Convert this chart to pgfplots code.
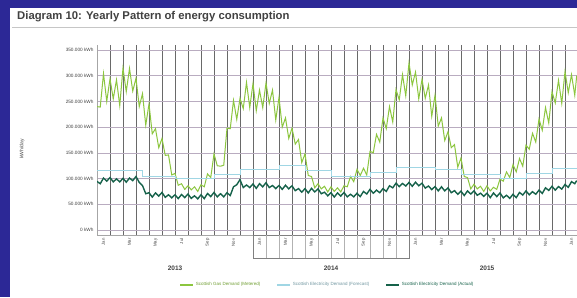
\documentclass[border=0pt]{standalone}
\usepackage{fontspec}
\setmainfont{Liberation Sans}
\usepackage{pgfplots}
\pgfplotsset{compat=1.18}
\usepackage{pgfplotstable}
\definecolor{frameblue}{RGB}{44,40,150}
\definecolor{lgreen}{RGB}{140,198,63}
\definecolor{dgreen}{RGB}{22,98,74}
\definecolor{lcyan}{RGB}{160,214,228}
\definecolor{vgrid}{RGB}{105,105,105}
\definecolor{hgrid}{RGB}{185,172,192}
\definecolor{txt}{RGB}{65,65,65}

\pgfplotstableread{
m v
0 240
0.25 239
0.5 304
0.75 250
1.0 294
1.25 255
1.5 292
1.75 242
2.0 315
2.25 269
2.5 314
2.75 270
3.0 295
3.25 240
3.5 265
3.75 204
4.0 245
4.25 187
4.5 197
4.75 160
5.0 178
5.25 145
5.5 146
5.75 107
6.0 110
6.25 87
6.5 90
6.75 79
7.0 86
7.25 78
7.5 84
7.75 75
8.0 88
8.25 84
8.5 109
8.75 102
9.0 148
9.25 125
9.5 124
9.75 126
10.0 198
10.25 197
10.5 252
10.75 215
11.0 256
11.25 236
11.5 287
11.75 238
12.0 285
12.25 232
12.5 272
12.75 238
13.0 286
13.25 246
13.5 272
13.75 214
14.0 258
14.25 200
14.5 218
14.75 178
15.0 198
15.25 167
15.5 176
15.75 131
16.0 148
16.25 106
16.5 104
16.75 82
17.0 90
17.25 80
17.5 85
17.75 74
18.0 84
18.25 75
18.5 82
18.75 74
19.0 86
19.25 84
19.5 104
19.75 94
20.0 118
20.25 106
20.5 120
20.75 107
21.0 153
21.25 150
21.5 186
21.75 171
22.0 218
22.25 197
22.5 240
22.75 210
23.0 273
23.25 253
23.5 302
23.75 261
24.0 325
24.25 282
24.5 307
24.75 255
25.0 293
25.25 256
25.5 282
25.75 221
26.0 262
26.25 202
26.5 218
26.75 174
27.0 191
27.25 160
27.5 166
27.75 122
28.0 140
28.25 104
28.5 102
28.75 80
29.0 89
29.25 80
29.5 85
29.75 75
30.0 86
30.25 76
30.5 83
30.75 79
31.0 99
31.25 95
31.5 113
31.75 102
32.0 127
32.25 113
32.5 139
32.75 124
33.0 165
33.25 157
33.5 188
33.75 171
34.0 216
34.25 194
34.5 238
34.75 208
35.0 269
35.25 247
35.5 291
35.75 246
36.0 308
36.25 267
36.5 302
36.75 262
36.9 300
}\gas

\pgfplotstableread{
m v
0 94.5
0.25 90
0.5 101
0.75 95
1.0 102
1.25 93.5
1.5 99.5
1.75 93.5
2.0 100.5
2.25 93
2.5 101
2.75 96
3.0 104
3.25 92.5
3.5 86.5
3.75 70.5
4.0 72.5
4.25 64
4.5 72
4.75 66
5.0 73
5.25 63.5
5.5 68.5
5.75 62.5
6.0 68.5
6.25 61
6.5 69
6.75 63
7.0 70
7.25 61.5
7.5 66.5
7.75 60.5
8.0 68.5
8.25 61
8.5 71
8.75 65
9.0 73
9.25 64.5
9.5 70.5
9.75 64.5
10.0 72.5
10.25 67
10.5 84
10.75 88
11.0 98
11.25 82.5
11.5 87.5
11.75 82.5
12.0 89.5
12.25 81
12.5 90
12.75 84
13.0 92
13.25 82.5
13.5 86.5
13.75 80.5
14.0 86.5
14.25 79
14.5 87
14.75 80
15.0 86
15.25 76.5
15.5 80.5
15.75 73.5
16.0 80.5
16.25 72
16.5 81
16.75 74
17.0 80
17.25 70.5
17.5 73.5
17.75 66.5
18.0 72.5
18.25 64
18.5 72
18.75 66
19.0 73
19.25 64.5
19.5 69.5
19.75 64.5
20.0 71.5
20.25 65
20.5 75
20.75 70
21.0 79
21.25 71.5
21.5 77.5
21.75 72.5
22.0 80.5
22.25 75
22.5 86
22.75 82
23.0 91
23.25 84.5
23.5 90.5
23.75 85.5
24.0 92.5
24.25 85
24.5 93
24.75 86
25.0 91
25.25 81.5
25.5 85.5
25.75 78.5
26.0 84.5
26.25 76
26.5 84
26.75 76
27.0 82
27.25 72.5
27.5 76.5
27.75 69.5
28.0 75.5
28.25 67
28.5 76
28.75 70
29.0 76
29.25 67.5
29.5 71.5
29.75 65.5
30.0 71.5
30.25 63
30.5 72
30.75 65
31.0 72
31.25 62.5
31.5 67.5
31.75 61.5
32.0 69.5
32.25 63
32.5 73
32.75 68
33.0 76
33.25 68.5
33.5 74.5
33.75 69.5
34.0 77.5
34.25 71
34.5 82
34.75 77
35.0 85
35.25 77.5
35.5 84.5
35.75 79.5
36.0 88.5
36.25 83
36.5 94
36.75 90
36.9 96
}\elec

\begin{document}
\begin{tikzpicture}
\path[use as bounding box] (0pt,0pt) rectangle (577pt,297pt);
\fill[frameblue] (0pt,0pt) rectangle (577pt,297pt);
\fill[white] (10pt,0pt) rectangle (577pt,289pt);
\draw[gray!45, line width=0.6pt] (12pt,270pt) -- (577pt,270pt);
\node[anchor=west, font=\bfseries\fontsize{11.3}{13}\selectfont, text=txt, inner sep=0pt] at (17pt,280pt) {Diagram 10: Yearly Pattern of energy consumption};
\node[rotate=90, font=\fontsize{5}{6}\selectfont, text=txt] at (22pt,148pt) {kWh/day};
\begin{axis}[
  at={(97pt,62pt)}, anchor=south west,
  scale only axis, width=480pt, height=190pt,
  xmin=0, xmax=36.923, ymin=-9.72, ymax=359.72,
  axis x line*=bottom, axis y line*=left,
  axis line style={draw=gray!70, line width=0.6pt},
  tick style={draw=none}, major tick length=0pt, minor tick length=0pt,
  xtick={0.5,2.5,...,36.5},
  xticklabels={Jan,Mar,May,Jul,Sep,Nov,Jan,Mar,May,Jul,Sep,Nov,Jan,Mar,May,Jul,Sep,Nov,Jan},
  x tick label style={rotate=90, anchor=east, font=\fontsize{4.3}{5}\selectfont, text=txt},
  minor xtick={1,...,36},
  xmajorgrids=false, xminorgrids=true,
  minor grid style={draw=vgrid, line width=0.75pt},
  ytick={0,50,...,350},
  yticklabels={0 kWh,50.000 kWh,100.000 kWh,150.000 kWh,200.000 kWh,250.000 kWh,300.000 kWh,350.000 kWh},
  y tick label style={font=\fontsize{4.7}{5}\selectfont, text=txt},
  ymajorgrids=true,
  major grid style={draw=hgrid, line width=0.5pt},
  clip mode=individual,
  legend columns=3,
  legend style={at={(axis description cs:0.48,-0.263)}, anchor=center, draw=none, fill=none,
    font=\fontsize{4.5}{5}\selectfont, /tikz/every even column/.append style={column sep=14pt}},
  legend image code/.code={\draw[#1, line width=1.4pt] (0pt,0pt) -- (13pt,0pt);},
]
\addplot[lgreen, line width=1.0pt] table[x=m,y=v] {\gas};
\addlegendentry{\textcolor{lgreen!80!black}{Scottish Gas Demand (Metered)}}
\addplot[lcyan, line width=0.8pt, const plot] coordinates {(0,115) (3.5,105) (6,100) (9,108) (11,118) (14,125) (16,115) (18,105) (21,112) (23,122) (26,118) (28,108) (31,100) (33,110) (35,120) (36.9,120)};
\addlegendentry{\textcolor{lcyan!70!black}{Scottish Electricity Demand (Forecast)}}
\addplot[dgreen, line width=1.4pt] table[x=m,y=v] {\elec};
\addlegendentry{\textcolor{dgreen}{Scottish Electricity Demand (Actual)}}
\draw[gray, line width=0.5pt] (axis cs:12,-9.72) rectangle (axis cs:24,-54.5);
\pgfplotsinvokeforeach{13,...,23}{\draw[gray!60, line width=0.4pt] (axis cs:#1,-9.72) -- (axis cs:#1,-54.5);}
\node[font=\bfseries\fontsize{6.5}{7}\selectfont, text=txt] at (axis cs:6,-74) {2013};
\node[font=\bfseries\fontsize{6.5}{7}\selectfont, text=txt] at (axis cs:18,-74) {2014};
\node[font=\bfseries\fontsize{6.5}{7}\selectfont, text=txt] at (axis cs:30,-74) {2015};
\end{axis}
\end{tikzpicture}
\end{document}
